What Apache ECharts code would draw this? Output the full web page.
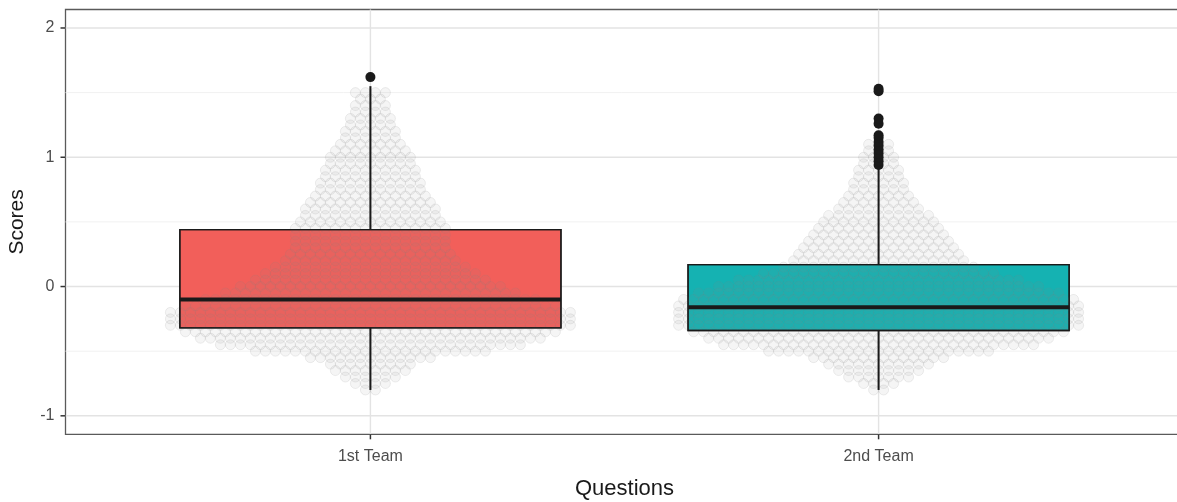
<!DOCTYPE html>
<html>
<head>
<meta charset="utf-8">
<script src="https://cdn.jsdelivr.net/npm/echarts@6/dist/echarts.min.js"></script>
<style>
  html, body { margin: 0; padding: 0; background: #ffffff; }
  #chart { width: 1177px; height: 502px; }
</style>
</head>
<body>
<div id="chart"></div>
<script>
// Teams on the horizontal axis (positions 1 and 2)
const TEAMS = ['1st Team', '2nd Team'];

// Box statistics per team: [lower whisker, Q1, median, Q3, upper whisker]
const BOX_1ST = [-0.80, -0.32, -0.10, 0.44, 1.55];
const BOX_2ND = [-0.80, -0.34, -0.16, 0.17, 0.92];

// Points beyond the whiskers
const OUTLIERS_1ST = [1.62];
const OUTLIERS_2ND = [0.94, 0.97, 1.00, 1.03, 1.06, 1.09, 1.12, 1.15, 1.17, 1.26, 1.30, 1.51, 1.53];

// Individual scores: score level and number of respondents at that level
const LEVELS_1ST = [1.50, 1.45, 1.40, 1.35, 1.30, 1.25, 1.20, 1.15, 1.10, 1.05, 1.00, 0.95, 0.90, 0.85, 0.80,
  0.75, 0.70, 0.65, 0.60, 0.55, 0.50, 0.45, 0.40, 0.35, 0.30, 0.25, 0.20, 0.15, 0.10, 0.05, 0.00,
  -0.05, -0.10, -0.15, -0.20, -0.25, -0.30, -0.35, -0.40, -0.45, -0.50, -0.55, -0.60, -0.65, -0.70, -0.75, -0.80];
const COUNTS_1ST = [4, 3, 4, 4, 5, 5, 6, 6, 7, 8, 9, 9, 10, 10, 11,
  11, 12, 13, 14, 14, 15, 16, 16, 16, 16, 17, 18, 20, 22, 24, 27,
  30, 34, 38, 41, 41, 41, 38, 35, 31, 24, 13, 9, 8, 6, 4, 2];

const LEVELS_2ND = [1.10, 1.05, 1.00, 0.95, 0.90, 0.85, 0.80, 0.75, 0.70, 0.65, 0.60, 0.55, 0.50, 0.45,
  0.40, 0.35, 0.30, 0.25, 0.20, 0.15, 0.10, 0.05, 0.00, -0.05, -0.10, -0.15, -0.20, -0.25, -0.30,
  -0.35, -0.40, -0.45, -0.50, -0.55, -0.60, -0.65, -0.70, -0.75, -0.80];
const COUNTS_2ND = [3, 3, 4, 4, 5, 5, 6, 6, 7, 8, 9, 11, 12, 13,
  14, 15, 16, 17, 18, 20, 24, 29, 33, 37, 40, 41, 41, 41, 41,
  38, 35, 32, 23, 14, 11, 9, 7, 4, 2];

// Axis ticks
const Y_TICKS = [-1, 0, 1, 2];
const Y_MINOR = [-0.5, 0.5, 1.5];
const X_TICKS = [1, 2];

const FILLS = ['#F25F5A', '#15B2B2'];

// Plot geometry
const GRID = { left: 65.5, top: 9.5, width: 1118, height: 424.8 };
const X_MIN = 0.4, X_MAX = 2.6;
const Y_MIN = -1.143, Y_MAX = 2.143;
const DOT_PX = 10;
const TICK_PX = 5;
const STEP = DOT_PX * (X_MAX - X_MIN) / GRID.width;  // horizontal spacing of swarm points in axis units

// Lay each score level out side by side around its team position
function swarm(center, levels, counts) {
  const pts = [];
  levels.forEach((y, r) => {
    const n = counts[r];
    for (let i = 0; i < n; i++) {
      pts.push([center + (i - (n - 1) / 2) * STEP, y]);
    }
  });
  return pts;
}

const boxData = [[1].concat(BOX_1ST), [2].concat(BOX_2ND)];
const outlierData = OUTLIERS_1ST.map(v => [1, v]).concat(OUTLIERS_2ND.map(v => [2, v]));
const swarmData = swarm(1, LEVELS_1ST, COUNTS_1ST).concat(swarm(2, LEVELS_2ND, COUNTS_2ND));

// Grid lines: [x, y, major?]
const hLines = Y_MINOR.map(v => [1, v, 0]).concat(Y_TICKS.map(v => [1, v, 1]));
const vLines = X_TICKS.map(v => [v, 0, 1]);

const BOX_WIDTH = 0.75;
const TICK_STYLE = { stroke: '#333333', lineWidth: 1.5 };

function renderHLine(params, api) {
  const y = api.value(1);
  const a = api.coord([X_MIN, y]);
  const b = api.coord([X_MAX, y]);
  const major = api.value(2) === 1;
  const children = [{
    type: 'line',
    shape: { x1: a[0], y1: a[1], x2: b[0], y2: b[1] },
    style: { stroke: major ? '#E3E3E3' : '#F1F1F1', lineWidth: major ? 1.4 : 1 }
  }];
  if (major) {
    children.push({
      type: 'line',
      shape: { x1: a[0] - TICK_PX, y1: a[1], x2: a[0], y2: a[1] },
      style: TICK_STYLE
    });
  }
  return { type: 'group', children };
}

function renderVLine(params, api) {
  const x = api.value(0);
  const a = api.coord([x, Y_MIN]);
  const b = api.coord([x, Y_MAX]);
  return {
    type: 'group',
    children: [
      {
        type: 'line',
        shape: { x1: a[0], y1: a[1], x2: b[0], y2: b[1] },
        style: { stroke: '#E3E3E3', lineWidth: 1.4 }
      },
      {
        type: 'line',
        shape: { x1: a[0], y1: a[1], x2: a[0], y2: a[1] + TICK_PX },
        style: TICK_STYLE
      }
    ]
  };
}

function renderBoxFill(params, api) {
  const x = api.value(0);
  const q1 = api.coord([x - BOX_WIDTH / 2, api.value(2)]);
  const q3 = api.coord([x + BOX_WIDTH / 2, api.value(4)]);
  return {
    type: 'rect',
    shape: { x: q1[0], y: q3[1], width: q3[0] - q1[0], height: q1[1] - q3[1] },
    style: { fill: FILLS[params.dataIndex], stroke: '#1a1a1a', lineWidth: 1.3 }
  };
}

function renderBoxLines(params, api) {
  const x = api.value(0);
  const lo = api.coord([x, api.value(1)]);
  const q1 = api.coord([x, api.value(2)]);
  const q3 = api.coord([x, api.value(4)]);
  const hi = api.coord([x, api.value(5)]);
  const mL = api.coord([x - BOX_WIDTH / 2, api.value(3)]);
  const mR = api.coord([x + BOX_WIDTH / 2, api.value(3)]);
  const line = (a, b, w) => ({
    type: 'line',
    shape: { x1: a[0], y1: a[1], x2: b[0], y2: b[1] },
    style: { stroke: '#1a1a1a', lineWidth: w }
  });
  return {
    type: 'group',
    children: [
      line(lo, q1, 2),
      line(q3, hi, 2),
      line(mL, mR, 4),
      {
        type: 'rect',
        shape: { x: mL[0], y: q3[1], width: mR[0] - mL[0], height: q1[1] - q3[1] },
        style: { fill: 'none', stroke: '#1a1a1a', lineWidth: 1.3 }
      }
    ]
  };
}

const chart = echarts.init(document.getElementById('chart'), null, { renderer: 'canvas' });
chart.setOption({
  animation: false,
  backgroundColor: '#ffffff',
  grid: {
    left: GRID.left, top: GRID.top, width: GRID.width, height: GRID.height,
    outerBoundsMode: 'none', containLabel: false,
    show: true, borderColor: '#5a5a5a', borderWidth: 1.3, backgroundColor: 'transparent'
  },
  xAxis: {
    type: 'value', min: X_MIN, max: X_MAX,
    name: 'Questions', nameLocation: 'middle', nameGap: 44,
    nameTextStyle: { color: '#1a1a1a', fontSize: 22, fontFamily: 'Liberation Sans' },
    axisLine: { show: false },
    axisTick: { show: false },
    axisLabel: {
      customValues: X_TICKS, margin: 14, color: '#4d4d4d', fontSize: 16, fontFamily: 'Liberation Sans',
      formatter: v => TEAMS[Math.round(v) - 1]
    },
    splitLine: { show: false }
  },
  yAxis: {
    type: 'value', min: Y_MIN, max: Y_MAX,
    name: 'Scores', nameLocation: 'middle', nameGap: 38,
    nameTextStyle: { color: '#1a1a1a', fontSize: 21, fontFamily: 'Liberation Sans' },
    axisLine: { show: false },
    axisTick: { show: false },
    axisLabel: { customValues: Y_TICKS, margin: 11, color: '#4d4d4d', fontSize: 16, fontFamily: 'Liberation Sans' },
    splitLine: { show: false }
  },
  series: [
    {
      type: 'custom', renderItem: renderHLine, data: hLines,
      encode: { x: 0, y: 1 }, z: 0, silent: true, clip: false
    },
    {
      type: 'custom', renderItem: renderVLine, data: vLines,
      encode: { x: 0, y: 1 }, z: 0, silent: true, clip: false
    },
    {
      type: 'custom', renderItem: renderBoxFill, data: [boxData[0].slice(), boxData[1].slice()],
      encode: { x: 0, y: [1, 2, 3, 4, 5] }, z: 1, silent: true
    },
    {
      type: 'scatter', data: swarmData, symbol: 'circle', symbolSize: DOT_PX, z: 2, silent: true,
      itemStyle: { color: 'rgba(140,140,140,0.11)', borderColor: 'rgba(130,130,130,0.22)', borderWidth: 0.8 }
    },
    {
      type: 'custom', renderItem: renderBoxLines, data: boxData,
      encode: { x: 0, y: [1, 2, 3, 4, 5] }, z: 3, silent: true
    },
    {
      type: 'scatter', data: outlierData, symbol: 'circle', symbolSize: 10, z: 4, silent: true,
      itemStyle: { color: '#1a1a1a', opacity: 1 }
    }
  ]
});
</script>
</body>
</html>
